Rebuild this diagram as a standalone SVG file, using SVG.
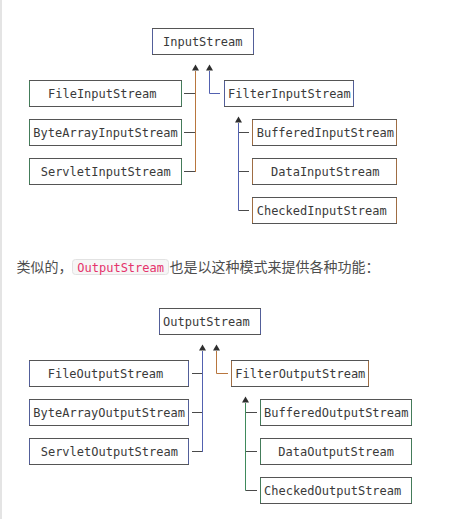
<svg xmlns="http://www.w3.org/2000/svg" width="456" height="519" viewBox="0 0 456 519">
<style>
.bx{fill:none;stroke:#555;stroke-width:1}
.t{font-family:"DejaVu Sans Mono","Liberation Mono",monospace;font-size:12px;fill:#3a3a3a}
.ln{fill:none;stroke:#4a4a4a;stroke-width:1}
.o{stroke:#b8763e;stroke-width:1;fill:none}
.b{stroke:#5261b0;stroke-width:1;fill:none}
.g{stroke:#3f8a5c;stroke-width:1;fill:none}
.e{stroke-opacity:0.75}
.ar{fill:#2e2e2e}
.cn{font-family:"Noto Sans CJK SC","Noto Sans",sans-serif;font-size:14px;fill:#4d4d4d}
.code{font-family:"DejaVu Sans Mono","Liberation Mono",monospace;font-size:12px;fill:#e5336b}
</style>
<defs>
<path id="tri" d="M-3.5,6 L0,0 L3.5,6 Z"/>
</defs>
<rect x="0" y="0" width="456" height="519" fill="#ffffff"/>
<rect x="0" y="0" width="2" height="519" fill="#e4e4e4"/>

<!-- Input diagram nodes -->
<g id="InputStream"><rect class="bx" x="152.5" y="28.5" width="101" height="26"/><path class="b e" d="M152.5,29V54M253.5,29V54"/><text class="t" x="163" y="45.5">InputStream</text></g>
<g id="FileInputStream"><rect class="bx" x="29.5" y="80.5" width="152" height="26"/><path class="g e" d="M29.5,81V106M181.5,81V106"/><text class="t" x="48" y="97.5">FileInputStream</text></g>
<g id="ByteArrayInputStream"><rect class="bx" x="29.5" y="119.5" width="152" height="26"/><path class="g e" d="M29.5,120V145M181.5,120V145"/><text class="t" x="33.3" y="136.5">ByteArrayInputStream</text></g>
<g id="ServletInputStream"><rect class="bx" x="29.5" y="158.5" width="152" height="26"/><path class="g e" d="M29.5,159V184M181.5,159V184"/><text class="t" x="40.7" y="175.5">ServletInputStream</text></g>
<g id="FilterInputStream"><rect class="bx" x="224.5" y="80.5" width="129" height="26"/><path class="b e" d="M224.5,81V106M353.5,81V106"/><text class="t" x="228" y="97.5">FilterInputStream</text></g>
<g id="BufferedInputStream"><rect class="bx" x="252.5" y="119.5" width="144" height="26"/><path class="o e" d="M252.5,120V145M396.5,120V145"/><text class="t" x="256.7" y="136.5">BufferedInputStream</text></g>
<g id="DataInputStream"><rect class="bx" x="252.5" y="158.5" width="144" height="26"/><path class="o e" d="M252.5,159V184M396.5,159V184"/><text class="t" x="271" y="175.5">DataInputStream</text></g>
<g id="CheckedInputStream"><rect class="bx" x="252.5" y="197.5" width="144" height="26"/><path class="o e" d="M252.5,198V223M396.5,198V223"/><text class="t" x="256.7" y="214.5">CheckedInputStream</text></g>

<!-- Text line -->
<g id="caption">
<text class="cn" x="16.5" y="272">类似的，</text>
<rect x="72.5" y="259.5" width="96" height="15" rx="3" fill="#f6f6f6" stroke="#e2e2e2"/>
<text class="code" x="77.3" y="271.5">OutputStream</text>
<text class="cn" x="169.5" y="272">也是以这种模式来提供各种功能：</text>
</g>

<!-- Output diagram nodes -->
<g id="OutputStream"><rect class="bx" x="159.5" y="308.5" width="101" height="26"/><path class="b e" d="M159.5,309V334M260.5,309V334"/><text class="t" x="163" y="325.5">OutputStream</text></g>
<g id="FileOutputStream"><rect class="bx" x="29.5" y="360.5" width="159" height="26"/><path class="b e" d="M29.5,361V386M188.5,361V386"/><text class="t" x="47.7" y="377.5">FileOutputStream</text></g>
<g id="ByteArrayOutputStream"><rect class="bx" x="29.5" y="399.5" width="159" height="26"/><path class="b e" d="M29.5,400V425M188.5,400V425"/><text class="t" x="33.3" y="416.5">ByteArrayOutputStream</text></g>
<g id="ServletOutputStream"><rect class="bx" x="29.5" y="438.5" width="159" height="26"/><path class="b e" d="M29.5,439V464M188.5,439V464"/><text class="t" x="40.7" y="455.5">ServletOutputStream</text></g>
<g id="FilterOutputStream"><rect class="bx" x="231.5" y="360.5" width="137" height="26"/><path class="o e" d="M231.5,361V386M368.5,361V386"/><text class="t" x="235.3" y="377.5">FilterOutputStream</text></g>
<g id="BufferedOutputStream"><rect class="bx" x="260.5" y="399.5" width="151" height="26"/><path class="g e" d="M260.5,400V425M411.5,400V425"/><text class="t" x="264" y="416.5">BufferedOutputStream</text></g>
<g id="DataOutputStream"><rect class="bx" x="260.5" y="438.5" width="151" height="26"/><path class="g e" d="M260.5,439V464M411.5,439V464"/><text class="t" x="278.3" y="455.5">DataOutputStream</text></g>
<g id="CheckedOutputStream"><rect class="bx" x="260.5" y="477.5" width="151" height="26"/><path class="g e" d="M260.5,478V503M411.5,478V503"/><text class="t" x="264" y="494.5">CheckedOutputStream</text></g>

<!-- Connectors -->
<g id="connectors">
<path class="ln" d="M184,93.5H195.5M184,132.5H195.5M184,171.5H195.5"/>
<path class="o" d="M195.5,71V172"/>
<use href="#tri" class="ar" x="195.5" y="64.5"/>
<path class="b" d="M209.5,71V93.5H220"/>
<use href="#tri" class="ar" x="209.5" y="64.5"/>
<path class="ln" d="M238.5,132.5H249M238.5,171.5H249M238.5,210.5H249"/>
<path class="b" d="M238.5,123V210.5"/>
<use href="#tri" class="ar" x="238.5" y="116.5"/>

<path class="ln" d="M192,373.5H202.5M192,412.5H202.5M192,451.5H202.5"/>
<path class="b" d="M202.5,351V452"/>
<use href="#tri" class="ar" x="202.5" y="344.5"/>
<path class="o" d="M216.5,351V373.5H228"/>
<use href="#tri" class="ar" x="216.5" y="344.5"/>
<path class="ln" d="M245.5,412.5H257M245.5,451.5H257M245.5,490.5H257"/>
<path class="g" d="M245.5,403V490.5"/>
<use href="#tri" class="ar" x="245.5" y="396.5"/>
</g>
</svg>
